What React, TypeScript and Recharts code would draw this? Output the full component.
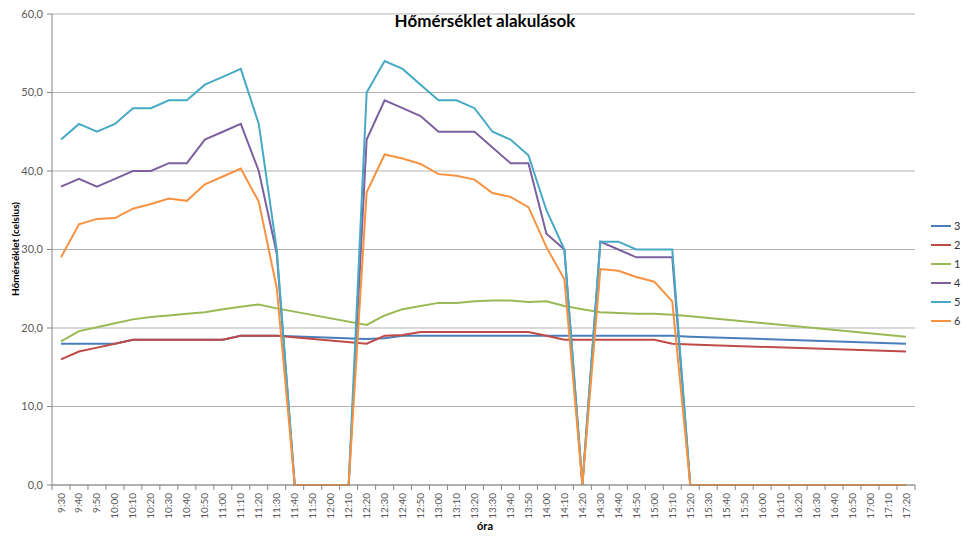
import { LineChart, Line, XAxis, YAxis, CartesianGrid } from "recharts";

const times = [
  "9:30", "9:40", "9:50", "10:00", "10:10", "10:20", "10:30", "10:40", "10:50", "11:00",
  "11:10", "11:20", "11:30", "11:40", "11:50", "12:00", "12:10", "12:20", "12:30", "12:40",
  "12:50", "13:00", "13:10", "13:20", "13:30", "13:40", "13:50", "14:00", "14:10", "14:20",
  "14:30", "14:40", "14:50", "15:00", "15:10", "15:20", "15:30", "15:40", "15:50", "16:00",
  "16:10", "16:20", "16:30", "16:40", "16:50", "17:00", "17:10", "17:20",
];

const yTicks = [0, 10, 20, 30, 40, 50, 60];

// szenzorok 1-3: hiányzó mérések (null), 4-6: 0 amikor nincs jel
const s3 = [
  18, 18, 18, 18, 18.5, 18.5, 18.5, 18.5, 18.5, 18.5, 19, 19, 19,
  null, null, null, null,
  18.6, 18.7, 19, 19, 19, 19, 19, 19, 19, 19, 19, 19, 19, 19, 19, 19, 19, 19, 18.9,
  null, null, null, null, null, null, null, null, null, null, null,
  18.0,
];
const s2 = [
  16, 17, 17.5, 18, 18.5, 18.5, 18.5, 18.5, 18.5, 18.5, 19, 19, 19,
  null, null, null, null,
  18.0, 19.0, 19.1, 19.5, 19.5, 19.5, 19.5, 19.5, 19.5, 19.5, 19.0, 18.5, 18.5, 18.5, 18.5, 18.5, 18.5, 18.0, 17.9,
  null, null, null, null, null, null, null, null, null, null, null,
  17.0,
];
const s1 = [
  18.3, 19.6, 20.1, 20.6, 21.1, 21.4, 21.6, 21.8, 22.0, 22.4, 22.7, 23.0, 22.5,
  null, null, null, null,
  20.4, 21.6, 22.4, 22.8, 23.2, 23.2, 23.4, 23.5, 23.5, 23.3, 23.4, 22.8, 22.4, 22.0, 21.9, 21.8, 21.8, 21.7, 21.5,
  null, null, null, null, null, null, null, null, null, null, null,
  18.9,
];
const s4 = [
  38, 39, 38, 39, 40, 40, 41, 41, 44, 45, 46, 40, 29.5,
  0, 0, 0, 0,
  44, 49, 48, 47, 45, 45, 45, 43, 41, 41, 32, 30, 0, 31, 30, 29, 29, 29, 0,
  0, 0, 0, 0, 0, 0, 0, 0, 0, 0, 0, 0,
];
const s5 = [
  44, 46, 45, 46, 48, 48, 49, 49, 51, 52, 53, 46, 30,
  0, 0, 0, 0,
  50, 54, 53, 51, 49, 49, 48, 45, 44, 42, 35, 30, 0, 31, 31, 30, 30, 30, 0,
  0, 0, 0, 0, 0, 0, 0, 0, 0, 0, 0, 0,
];
const s6 = [
  29, 33.2, 33.9, 34, 35.2, 35.8, 36.5, 36.2, 38.3, 39.3, 40.3, 36.1, 25.1,
  0, 0, 0, 0,
  37.3, 42.1, 41.6, 40.9, 39.6, 39.4, 38.9, 37.2, 36.7, 35.4, 30.3, 26.2, 0, 27.5, 27.3, 26.5, 25.9, 23.4, 0,
  0, 0, 0, 0, 0, 0, 0, 0, 0, 0, 0, 0,
];

const series = [
  { key: "3", values: s3, color: "#4A7EBB", gaps: true },
  { key: "2", values: s2, color: "#BE4B48", gaps: true },
  { key: "1", values: s1, color: "#98B954", gaps: true },
  { key: "4", values: s4, color: "#7D60A0", gaps: false },
  { key: "5", values: s5, color: "#46AAC5", gaps: false },
  { key: "6", values: s6, color: "#F69240", gaps: false },
];

const data = times.map((t, i) => {
  const row: any = { t };
  series.forEach((s) => (row[s.key] = s.values[i]));
  return row;
});

const font = "Lato, 'Open Sans', sans-serif";
const axisColor = "#868686";
const textColor = "#595959";

const XTick = ({ x, y, payload, index }: any) => {
  const half = 9;
  const top = y - 7;
  return (
    <g>
      <line x1={x - half} x2={x - half} y1={top} y2={top + 5} stroke={axisColor} />
      {index === times.length - 1 && (
        <line x1={x + half} x2={x + half} y1={top} y2={top + 5} stroke={axisColor} />
      )}
      <text
        transform={`translate(${x + 3.5},${y + 1}) rotate(-90)`}
        textAnchor="end"
        fontSize={10}
        fontFamily={font}
        fill={textColor}
      >
        {payload.value}
      </text>
    </g>
  );
};

export default function App() {
  return (
    <div style={{ position: "absolute", left: 0, top: 0, width: 970, height: 538, background: "#fff" }}>
      <div
        style={{
          position: "absolute",
          left: 0,
          width: 970,
          top: 10,
          textAlign: "center",
          fontFamily: font,
          fontWeight: 700,
          fontSize: 17,
          color: "#000",
          zIndex: 2,
        }}
      >
        Hőmérséklet alakulások
      </div>
      <div
        style={{
          position: "absolute",
          left: 15,
          top: 249,
          transform: "translate(-50%, -50%) rotate(-90deg)",
          whiteSpace: "nowrap",
          fontFamily: font,
          fontWeight: 700,
          fontSize: 10,
          color: "#000",
        }}
      >
        Hőmérséklet (celsius)
      </div>
      <div
        style={{
          position: "absolute",
          left: 0,
          width: 970,
          top: 519,
          textAlign: "center",
          fontFamily: font,
          fontWeight: 700,
          fontSize: 11,
          color: "#000",
        }}
      >
        óra
      </div>
      <div style={{ position: "absolute", left: 931, top: 216, fontFamily: font, fontSize: 11, color: "#333" }}>
        {series.map((s) => (
          <div key={s.key} style={{ display: "flex", alignItems: "center", height: 19 }}>
            <span style={{ display: "inline-block", width: 20, height: 2, background: s.color, marginRight: 3 }} />
            <span>{s.key}</span>
          </div>
        ))}
      </div>
      <LineChart width={970} height={538} data={data} margin={{ top: 14, right: 55, bottom: 0, left: 0 }}>
        <CartesianGrid vertical={false} stroke="#b3b3b3" />
        <XAxis
          dataKey="t"
          interval={0}
          padding={{ left: 9, right: 9 }}
          height={53}
          tickLine={false}
          tickSize={5}
          tickMargin={2}
          stroke={axisColor}
          tick={<XTick />}
        />
        <YAxis
          domain={[0, 60]}
          ticks={yTicks}
          width={52}
          tickSize={5}
          tickMargin={4}
          stroke={axisColor}
          tick={{ fontSize: 11, fill: textColor, fontFamily: font }}
          tickFormatter={(v: number) => v.toFixed(1).replace(".", ",")}
        />
        {series.map((s) => (
          <Line
            key={s.key}
            dataKey={s.key}
            stroke={s.color}
            strokeWidth={2}
            dot={false}
            connectNulls={s.gaps}
            type="linear"
            isAnimationActive={false}
          />
        ))}
      </LineChart>
    </div>
  );
}
